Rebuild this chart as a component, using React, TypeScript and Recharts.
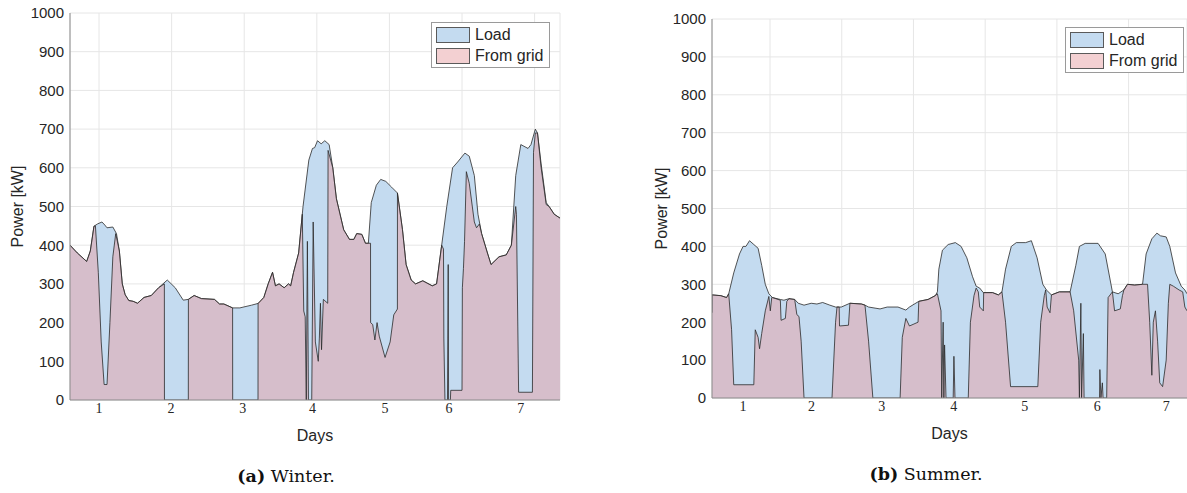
import { AreaChart, Area, XAxis, YAxis, CartesianGrid, Legend } from "recharts";

// [day, kW] pairs
const winterLoad: [number, number][] = [
  [0.6, 400], [0.7, 380], [0.83, 358], [0.88, 385], [0.93, 449], [0.98, 455], [1.04, 460],
  [1.08, 452], [1.11, 445], [1.19, 447], [1.24, 430], [1.28, 385], [1.32, 300], [1.36, 272],
  [1.41, 257], [1.47, 255], [1.53, 250], [1.62, 265], [1.72, 270], [1.82, 290], [1.94, 310],
  [2.05, 290], [2.16, 258], [2.23, 260], [2.31, 270], [2.41, 262], [2.59, 260], [2.66, 248],
  [2.72, 248], [2.84, 238], [2.94, 238], [3.1, 245], [3.2, 250], [3.27, 265], [3.33, 300],
  [3.39, 330], [3.43, 295], [3.48, 300], [3.55, 290], [3.61, 300], [3.64, 295], [3.68, 330],
  [3.75, 380], [3.81, 500], [3.89, 620], [3.94, 650], [3.97, 652], [4.01, 670], [4.06, 662],
  [4.11, 670], [4.17, 660], [4.22, 600], [4.27, 520], [4.37, 440], [4.45, 415], [4.51, 415],
  [4.55, 430], [4.62, 428], [4.67, 405], [4.71, 405], [4.75, 510], [4.82, 555], [4.88, 570],
  [4.95, 565], [5.03, 550], [5.11, 535], [5.18, 440], [5.23, 350], [5.3, 310], [5.36, 300],
  [5.46, 308], [5.59, 295], [5.65, 300], [5.72, 400], [5.79, 500], [5.87, 600], [5.94, 615],
  [6.04, 638], [6.1, 630], [6.17, 580], [6.22, 480], [6.27, 430], [6.35, 380], [6.4, 350],
  [6.51, 370], [6.61, 375], [6.68, 400], [6.74, 580], [6.81, 660], [6.91, 650], [6.95, 660],
  [7.01, 700], [7.04, 690], [7.09, 610], [7.16, 510], [7.2, 500], [7.27, 480], [7.35, 470],
];

const winterGrid: [number, number][] = [
  [0.6, 400], [0.7, 380], [0.83, 358], [0.88, 385], [0.93, 449], [0.95, 450], [0.99, 330],
  [1.03, 150], [1.07, 40], [1.11, 40], [1.15, 200], [1.19, 370], [1.23, 430], [1.28, 385],
  [1.32, 300], [1.36, 272], [1.41, 257], [1.47, 255], [1.53, 250], [1.62, 265], [1.72, 270],
  [1.82, 290], [1.9, 300], [1.901, 0], [2.23, 0], [2.231, 260], [2.31, 270], [2.41, 262],
  [2.59, 260], [2.66, 248], [2.72, 248], [2.84, 238], [2.841, 0], [3.19, 0], [3.191, 250],
  [3.27, 265], [3.33, 300], [3.39, 330], [3.43, 295], [3.48, 300], [3.55, 290], [3.61, 300],
  [3.64, 295], [3.68, 330], [3.75, 380], [3.8, 480], [3.82, 230], [3.84, 215], [3.855, 0],
  [3.87, 410], [3.885, 0], [3.93, 0], [3.95, 460], [3.98, 150], [4.02, 100], [4.035, 160],
  [4.05, 250], [4.065, 130], [4.09, 260], [4.15, 250], [4.155, 645], [4.22, 600], [4.27, 520],
  [4.37, 440], [4.45, 415], [4.51, 415], [4.55, 430], [4.62, 428], [4.67, 405], [4.74, 405],
  [4.741, 200], [4.77, 195], [4.8, 155], [4.83, 200], [4.86, 165], [4.94, 110], [5.01, 150],
  [5.06, 220], [5.11, 235], [5.111, 535], [5.18, 440], [5.23, 350], [5.3, 310], [5.36, 300],
  [5.46, 308], [5.59, 295], [5.65, 300], [5.72, 400], [5.745, 390], [5.75, 160], [5.765, 0],
  [5.8, 0], [5.81, 350], [5.815, 0], [5.84, 0], [5.845, 25], [6.0, 25], [6.005, 290],
  [6.02, 340], [6.035, 410], [6.06, 590], [6.1, 560], [6.17, 460], [6.2, 445], [6.24, 455],
  [6.27, 430], [6.35, 380], [6.4, 350], [6.51, 370], [6.61, 375], [6.68, 400], [6.74, 500],
  [6.75, 480], [6.78, 20], [6.97, 20], [6.985, 640], [7.01, 690], [7.04, 690], [7.09, 600],
  [7.16, 505], [7.2, 500], [7.27, 480], [7.35, 470],
];

const summerLoad: [number, number][] = [
  [0.567, 272], [0.69, 270], [0.77, 265], [0.8, 275], [0.87, 330], [0.95, 380], [1.0, 400],
  [1.04, 400], [1.09, 415], [1.15, 405], [1.21, 395], [1.26, 350], [1.31, 300], [1.36, 275],
  [1.41, 265], [1.52, 260], [1.57, 258], [1.64, 262], [1.72, 260], [1.77, 250], [1.85, 245],
  [1.95, 250], [2.03, 248], [2.11, 252], [2.21, 245], [2.29, 240], [2.37, 240], [2.49, 250],
  [2.65, 248], [2.7, 245], [2.75, 240], [2.91, 235], [3.01, 240], [3.16, 240], [3.27, 232],
  [3.32, 240], [3.45, 255], [3.58, 260], [3.68, 270], [3.71, 280], [3.73, 340], [3.78, 390],
  [3.86, 405], [3.96, 410], [4.04, 400], [4.12, 370], [4.2, 320], [4.25, 295], [4.3, 290],
  [4.35, 278], [4.48, 278], [4.56, 272], [4.61, 280], [4.66, 340], [4.74, 400], [4.81, 410],
  [4.94, 410], [5.02, 415], [5.1, 370], [5.18, 300], [5.23, 285], [5.3, 272], [5.41, 280],
  [5.56, 280], [5.64, 350], [5.69, 400], [5.77, 408], [5.95, 408], [6.05, 380], [6.15, 280],
  [6.23, 275], [6.31, 285], [6.36, 300], [6.46, 298], [6.57, 300], [6.62, 380], [6.7, 420],
  [6.77, 435], [6.82, 428], [6.9, 425], [6.95, 400], [7.03, 330], [7.11, 295], [7.16, 285],
  [7.19, 275],
];

const summerGrid: [number, number][] = [
  [0.567, 225], [0.569, 272], [0.69, 270], [0.77, 265], [0.8, 275], [0.84, 180], [0.87, 35],
  [1.15, 35], [1.17, 180], [1.21, 160], [1.23, 130], [1.26, 170], [1.31, 230], [1.36, 268],
  [1.38, 230], [1.4, 265], [1.41, 265], [1.52, 258], [1.53, 205], [1.59, 210], [1.61, 255],
  [1.64, 262], [1.72, 260], [1.75, 220], [1.78, 215], [1.81, 150], [1.85, 0], [2.24, 0],
  [2.29, 200], [2.31, 240], [2.34, 240], [2.345, 190], [2.47, 192], [2.49, 250], [2.65, 248],
  [2.7, 245], [2.75, 150], [2.81, 0], [3.19, 0], [3.22, 160], [3.27, 210], [3.32, 190],
  [3.44, 200], [3.45, 255], [3.58, 260], [3.68, 270], [3.71, 275], [3.76, 230], [3.77, 0],
  [3.79, 200], [3.8, 0], [3.81, 140], [3.83, 0], [3.93, 0], [3.94, 110], [3.955, 0], [4.14, 0],
  [4.17, 200], [4.22, 270], [4.25, 290], [4.28, 280], [4.3, 240], [4.35, 230], [4.355, 278],
  [4.48, 278], [4.56, 272], [4.61, 280], [4.66, 200], [4.73, 30], [5.11, 30], [5.15, 200],
  [5.2, 270], [5.22, 285], [5.24, 240], [5.28, 225], [5.3, 272], [5.41, 280], [5.56, 280],
  [5.61, 230], [5.68, 100], [5.69, 0], [5.71, 250], [5.72, 0], [5.745, 170], [5.755, 0],
  [5.97, 0], [5.975, 75], [5.99, 0], [6.01, 40], [6.02, 0], [6.07, 0], [6.09, 265], [6.15, 280],
  [6.18, 230], [6.26, 235], [6.29, 270], [6.31, 285], [6.36, 300], [6.46, 298], [6.57, 300],
  [6.64, 300], [6.67, 200], [6.7, 60], [6.72, 200], [6.75, 230], [6.78, 150], [6.81, 40],
  [6.85, 30], [6.9, 100], [6.93, 250], [6.95, 300], [7.0, 295], [7.08, 285], [7.13, 280],
  [7.16, 240], [7.19, 230],
];

const yTicks = [0, 100, 200, 300, 400, 500, 600, 700, 800, 900, 1000];
const dayLabels = ["1", "2", "3", "4", "5", "6", "7"];
// grid lines (axis ticks) and the day labels sit at slightly different places
const winterGridTicks = [1, 2, 3, 4, 5, 6, 7];
const winterLabelTicks = [1, 1.99, 2.98, 3.94, 4.94, 5.82, 6.81];
const summerGridTicks = [1.376, 2.376, 3.376, 4.376, 5.376, 6.376];
const summerLabelTicks = [1, 1.954, 2.933, 3.938, 4.928, 5.938, 6.902];

const series = [
  { name: "Load", fill: "#c4dbf0", opacity: 1 },
  { name: "From grid", fill: "#e7a2a6", opacity: 0.5 },
];

const frame = "#8a8a8a";
const textColor = "#262626";

const toRows = (pts: [number, number][]) => pts.map(([x, v]) => ({ x, v }));

// keeps tick lines but draws no label
const NoLabel = () => <g />;

function LegendBox() {
  return (
    <div
      style={{
        border: "1px solid #9a9a9a",
        background: "#fff",
        padding: "4px 6px 4px 4px",
        fontSize: 16,
        color: textColor,
        fontFamily: "'Liberation Sans', Arial, sans-serif",
      }}
    >
      {series.map((s, i) => (
        <div
          key={s.name}
          style={{ display: "flex", alignItems: "center", height: 15, marginTop: i ? 6 : 0 }}
        >
          <svg width={35} height={16} style={{ marginRight: 4 }}>
            <rect x={0.5} y={0.5} width={33} height={15} fill={s.fill} fillOpacity={s.opacity} stroke="#5a5a5a" />
          </svg>
          {s.name}
        </div>
      ))}
    </div>
  );
}

type PanelProps = {
  load: [number, number][];
  grid: [number, number][];
  domain: [number, number];
  gridTicks: number[];
  labelTicks: number[];
  width: number;
  height: number;
  top: number;
  right: number;
  yWidth: number;
  yLabelOffset: number;
  legendPos: { left: number; top: number };
};

function Panel(p: PanelProps) {
  return (
    <AreaChart width={p.width} height={p.height} margin={{ top: p.top, right: p.right, left: 0, bottom: 0 }}>
      <CartesianGrid xAxisId="g" yAxisId="l" stroke="#e6e6e6" strokeWidth={1} />
      <XAxis
        xAxisId="g"
        orientation="top"
        type="number"
        dataKey="x"
        domain={p.domain}
        allowDataOverflow
        ticks={p.gridTicks}
        interval={0}
        height={0}
        mirror
        tick={NoLabel}
        tickSize={4}
        tickLine={{ stroke: frame }}
        axisLine={{ stroke: frame }}
      />
      <XAxis
        xAxisId="b"
        orientation="bottom"
        type="number"
        dataKey="x"
        domain={p.domain}
        allowDataOverflow
        ticks={p.labelTicks}
        interval={0}
        height={45}
        tickLine={false}
        tickSize={0}
        tickMargin={3}
        tickFormatter={(_v: number, i: number) => dayLabels[i]}
        tick={{ fontSize: 14, fill: textColor, fontFamily: "'Liberation Serif', serif" }}
        axisLine={{ stroke: frame }}
        label={{ value: "Days", position: "insideBottom", offset: 4, style: { fontSize: 16, fill: textColor } }}
      />
      <YAxis
        yAxisId="l"
        type="number"
        domain={[0, 1000]}
        allowDataOverflow
        ticks={yTicks}
        interval={0}
        width={p.yWidth}
        tickLine={false}
        tickSize={4}
        tickMargin={2}
        tick={{ fontSize: 15, fill: textColor }}
        axisLine={{ stroke: frame }}
        label={{
          value: "Power [kW]",
          angle: -90,
          position: "insideLeft",
          offset: p.yLabelOffset,
          style: { textAnchor: "middle", fontSize: 16, fill: textColor },
        }}
      />
      <YAxis
        yAxisId="r"
        orientation="right"
        type="number"
        domain={[0, 1000]}
        ticks={yTicks}
        interval={0}
        width={0}
        mirror
        tick={NoLabel}
        tickSize={4}
        tickLine={{ stroke: frame }}
        axisLine={{ stroke: frame }}
      />
      <Area
        data={toRows(p.load)}
        xAxisId="g"
        yAxisId="l"
        dataKey="v"
        name={series[0].name}
        type="linear"
        fill={series[0].fill}
        fillOpacity={series[0].opacity}
        stroke="#2a2a2a"
        strokeWidth={0.8}
        dot={false}
        activeDot={false}
        isAnimationActive={false}
      />
      <Area
        data={toRows(p.grid)}
        xAxisId="g"
        yAxisId="l"
        dataKey="v"
        name={series[1].name}
        type="linear"
        fill={series[1].fill}
        fillOpacity={series[1].opacity}
        stroke="#2a2a2a"
        strokeWidth={0.8}
        dot={false}
        activeDot={false}
        isAnimationActive={false}
      />
      <Legend
        layout="horizontal"
        verticalAlign="middle"
        align="center"
        content={() => <LegendBox />}
        wrapperStyle={{ left: p.legendPos.left, top: p.legendPos.top, width: "auto" }}
      />
    </AreaChart>
  );
}

const captionStyle: React.CSSProperties = {
  position: "absolute",
  width: 240,
  textAlign: "center",
  fontFamily: "'DejaVu Serif', serif",
  fontSize: 17.5,
  lineHeight: "22px",
  color: "#111",
};

export default function App() {
  return (
    <div
      style={{
        position: "absolute",
        left: 0,
        top: 0,
        width: 1187,
        height: 493,
        overflow: "hidden",
        background: "#fff",
        fontFamily: "'Liberation Sans', Arial, sans-serif",
      }}
    >
      <div style={{ position: "absolute", left: 0, top: 0 }}>
        <Panel
          load={winterLoad}
          grid={winterGrid}
          domain={[0.6, 7.35]}
          gridTicks={winterGridTicks}
          labelTicks={winterLabelTicks}
          width={580}
          height={445}
          top={13}
          right={20}
          yWidth={70}
          yLabelOffset={17}
          legendPos={{ left: 431, top: 22 }}
        />
      </div>
      <div style={{ position: "absolute", left: 610, top: 0 }}>
        <Panel
          load={summerLoad}
          grid={summerGrid}
          domain={[0.567, 7.19]}
          gridTicks={summerGridTicks}
          labelTicks={summerLabelTicks}
          width={577}
          height={443}
          top={19}
          right={0}
          yWidth={102}
          yLabelOffset={51}
          legendPos={{ left: 455, top: 27 }}
        />
      </div>
      <div style={{ ...captionStyle, left: 166, top: 465 }}>
        <b>(a)</b> Winter.
      </div>
      <div style={{ ...captionStyle, left: 806, top: 463 }}>
        <b>(b)</b> Summer.
      </div>
    </div>
  );
}
